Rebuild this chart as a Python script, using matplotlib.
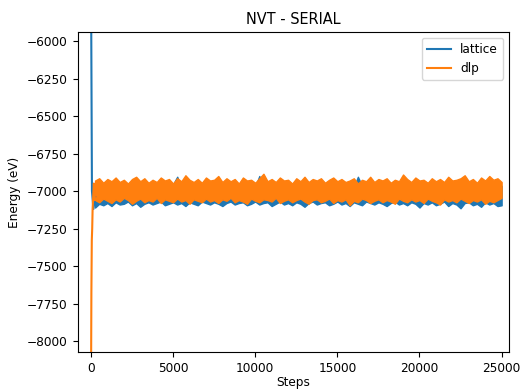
import numpy as np
import matplotlib
matplotlib.use("Agg")
import matplotlib.pyplot as plt

# spacing (steps) of the envelope readings below
env_step = 250

# start-up transients
lattice_head_steps = [0, 60, 150, 250]
lattice_head = [-5500, -7000, -7120, -7040]
dlp_head_steps = [0, 25, 50, 75, 100, 175, 250]
dlp_head = [-8400, -7680, -7330, -7250, -7120, -6950, -7060]

# equilibrated part: upper / lower excursions of the noisy traces
lattice_upper = [
    -6975, -6960, -6985, -6970, -6990, -6965, -6980, -6955, -6975, -6960,
    -6985, -6970, -6950, -6975, -6965, -6980, -6960, -6990, -6970, -6955,
    -6905, -6975, -6965, -6980, -6960, -6970, -6985, -6955, -6975, -6965,
    -6980, -6960, -6970, -6990, -6955, -6975, -6965, -6985, -6960, -6970,
    -6900, -6980, -6955, -6975, -6965, -6985, -6960, -6970, -6955, -6980,
    -6965, -6975, -6960, -6990, -6970, -6955, -6980, -6965, -6975, -6960,
    -6985, -6970, -6955, -6975, -6905, -6965, -6980, -6960, -6970, -6985,
    -6955, -6975, -6965, -6980, -6960, -6970, -6990, -6955, -6975, -6965,
    -6980, -6960, -6970, -6985, -6955, -6975, -6965, -6980, -6960, -6970,
    -6955, -6985, -6975, -6965, -6980, -6960, -6970, -6955, -6975, -6965,
]
lattice_lower = [
    -7110, -7085, -7095, -7080, -7100, -7075, -7090, -7085, -7070, -7095,
    -7080, -7105, -7085, -7075, -7090, -7080, -7070, -7095, -7085, -7075,
    -7090, -7080, -7100, -7075, -7085, -7095, -7070, -7080, -7090, -7075,
    -7085, -7100, -7080, -7070, -7090, -7080, -7075, -7095, -7085, -7070,
    -7090, -7080, -7075, -7100, -7085, -7070, -7090, -7080, -7095, -7075,
    -7085, -7105, -7080, -7070, -7090, -7080, -7075, -7095, -7085, -7070,
    -7090, -7080, -7100, -7075, -7085, -7095, -7070, -7080, -7090, -7075,
    -7085, -7100, -7080, -7070, -7090, -7080, -7095, -7075, -7085, -7110,
    -7080, -7090, -7075, -7095, -7085, -7070, -7100, -7080, -7090, -7115,
    -7080, -7075, -7095, -7085, -7105, -7075, -7090, -7080, -7100, -7095,
]

dlp_upper = [
    -6930, -6915, -6945, -6920, -6935, -6910, -6940, -6925, -6950, -6920,
    -6905, -6935, -6915, -6945, -6925, -6940, -6910, -6930, -6920, -6950,
    -6915, -6935, -6895, -6925, -6940, -6920, -6945, -6910, -6930, -6925,
    -6900, -6940, -6915, -6935, -6920, -6950, -6910, -6930, -6925, -6945,
    -6915, -6885, -6935, -6920, -6940, -6910, -6930, -6925, -6950, -6915,
    -6935, -6905, -6940, -6920, -6930, -6915, -6945, -6925, -6910, -6935,
    -6920, -6940, -6930, -6915, -6950, -6925, -6935, -6905, -6940, -6920,
    -6930, -6915, -6945, -6925, -6935, -6890, -6920, -6940, -6910, -6930,
    -6925, -6945, -6915, -6935, -6920, -6940, -6905, -6930, -6925, -6915,
    -6895, -6935, -6920, -6945, -6910, -6930, -6900, -6925, -6915, -6940,
]
dlp_lower = [
    -7060, -7075, -7050, -7065, -7080, -7055, -7070, -7045, -7060, -7085,
    -7065, -7050, -7075, -7060, -7070, -7045, -7080, -7055, -7065, -7075,
    -7050, -7070, -7060, -7085, -7055, -7065, -7075, -7050, -7070, -7060,
    -7080, -7055, -7065, -7045, -7075, -7060, -7070, -7085, -7050, -7065,
    -7075, -7055, -7060, -7070, -7045, -7080, -7065, -7055, -7075, -7060,
    -7050, -7070, -7085, -7060, -7055, -7075, -7065, -7050, -7080, -7060,
    -7070, -7055, -7095, -7065, -7075, -7050, -7060, -7080, -7065, -7055,
    -7075, -7060, -7070, -7085, -7050, -7065, -7075, -7055, -7070, -7060,
    -7080, -7050, -7065, -7075, -7090, -7055, -7070, -7060, -7075, -7050,
    -7065, -7080, -7060, -7070, -7055, -7085, -7065, -7075, -7060, -7045,
]

env_x = np.arange(1, len(lattice_upper) + 1) * env_step

fs = 8.7
plt.rcParams['font.size'] = fs

fig = plt.figure(figsize=(5.21, 3.9), dpi=100)
ax = fig.add_axes([77.5 / 521, 1 - 352 / 390, (509 - 77.5) / 521, (352 - 32) / 390])

c_lat, c_dlp = "C0", "C1"
ax.plot(lattice_head_steps, lattice_head, color=c_lat, lw=1.5, label="lattice")
ax.fill_between(env_x, lattice_lower, lattice_upper, facecolor=c_lat, edgecolor=c_lat, lw=1.0)
ax.plot(dlp_head_steps, dlp_head, color=c_dlp, lw=1.5, label="dlp")
ax.fill_between(env_x, dlp_lower, dlp_upper, facecolor=c_dlp, edgecolor=c_dlp, lw=1.0)

ax.set_xlim(-820, 25450)
ax.set_ylim(-8073, -5940)
ax.set_yticks(np.arange(-8000, -5999, 250))
ax.set_xticks(np.arange(0, 25001, 5000))

ax.set_title("NVT - SERIAL", fontsize=fs * 1.2)
ax.set_xlabel("Steps", labelpad=1)
ax.set_ylabel("Energy (eV)")
ax.legend(loc="upper right")

fig.savefig("out.png", dpi=100)
